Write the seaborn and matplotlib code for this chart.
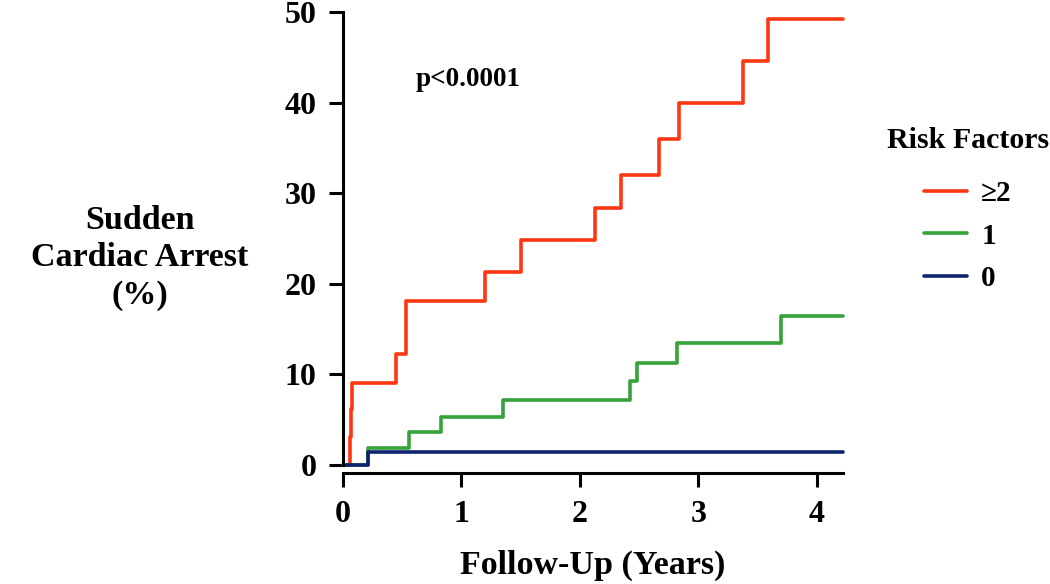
import pandas as pd
import matplotlib.pyplot as plt
import seaborn as sns

# Kaplan-Meier style cumulative incidence
red_years = [0, 0.06, 0.065, 0.075, 0.45, 0.53, 1.2, 1.5, 2.13, 2.35, 2.67, 2.84, 3.38, 3.59, 4.22]
red_pct = [0, 3.1, 6.2, 9.1, 12.2, 18.1, 21.3, 24.8, 28.4, 32.0, 36.0, 40.0, 44.6, 49.2, 49.2]

green_years = [0, 0.21, 0.56, 0.83, 1.35, 2.42, 2.48, 2.82, 3.70, 4.22]
green_pct = [0, 1.85, 3.6, 5.3, 7.2, 9.3, 11.3, 13.5, 16.5, 16.5]

blue_years = [0, 0.21, 4.22]
blue_pct = [0, 1.4, 1.4]

groups = ['≥2', '1', '0']
colors = ['#ff3612', '#35a23a', '#0c2470']

df = pd.concat([
    pd.DataFrame({'years': red_years, 'pct': red_pct, 'risk': '≥2'}),
    pd.DataFrame({'years': green_years, 'pct': green_pct, 'risk': '1'}),
    pd.DataFrame({'years': blue_years, 'pct': blue_pct, 'risk': '0'}),
])

sns.set_style('ticks')
plt.rcParams['font.family'] = ['Liberation Serif', 'DejaVu Serif']
plt.rcParams['font.weight'] = 'bold'
plt.rcParams['text.color'] = 'black'
plt.rcParams['axes.labelcolor'] = 'black'

fig = plt.figure(figsize=(10.5, 5.84), dpi=100)
ax = fig.add_axes([343 / 1050, 1 - 465 / 584, 500 / 1050, 453 / 584])

sns.lineplot(data=df, x='years', y='pct', hue='risk', hue_order=groups,
             palette=colors, estimator=None, drawstyle='steps-post',
             linewidth=2.6, clip_on=False, ax=ax)

ax.set_xlim(0, 4.22)
ax.set_ylim(0, 50)
ax.set_xticks([0, 1, 2, 3, 4])
ax.set_yticks([0, 10, 20, 30, 40, 50])
ax.spines['top'].set_visible(False)
ax.spines['right'].set_visible(False)
ax.spines['bottom'].set_position(('outward', 6))
for s in ['left', 'bottom']:
    ax.spines[s].set_linewidth(2.2)
    ax.spines[s].set_color('black')
ax.tick_params(width=2.2, length=10, labelsize=23, colors='black', pad=9)
for lab in ax.get_xticklabels() + ax.get_yticklabels():
    lab.set_fontweight('bold')

ax.set_xlabel('Follow-Up (Years)', fontsize=24.5, fontweight='bold', labelpad=15)
ax.set_ylabel('')
fig.text(140 / 1050, 1 - 258 / 584, 'Sudden\nCardiac Arrest\n(%)', ha='center', va='center',
         multialignment='center', fontsize=24.5, fontweight='bold', linespacing=1.25)

ax.text(0.61, 42.6, 'p<0.0001', fontsize=19.5, fontweight='bold', va='center')

leg = ax.legend(title='Risk Factors', loc='upper center', bbox_to_anchor=(968 / 1050, 1 - 127 / 584),
                bbox_transform=fig.transFigure, frameon=False, fontsize=21,
                title_fontsize=21.5, handlelength=1.45, handletextpad=0.5,
                labelspacing=0.52, borderaxespad=0, borderpad=0)
leg.get_title().set_fontweight('bold')
leg._legend_box.sep = 19
for t in leg.get_texts():
    t.set_fontweight('bold')

fig.savefig('out.png', dpi=100)
